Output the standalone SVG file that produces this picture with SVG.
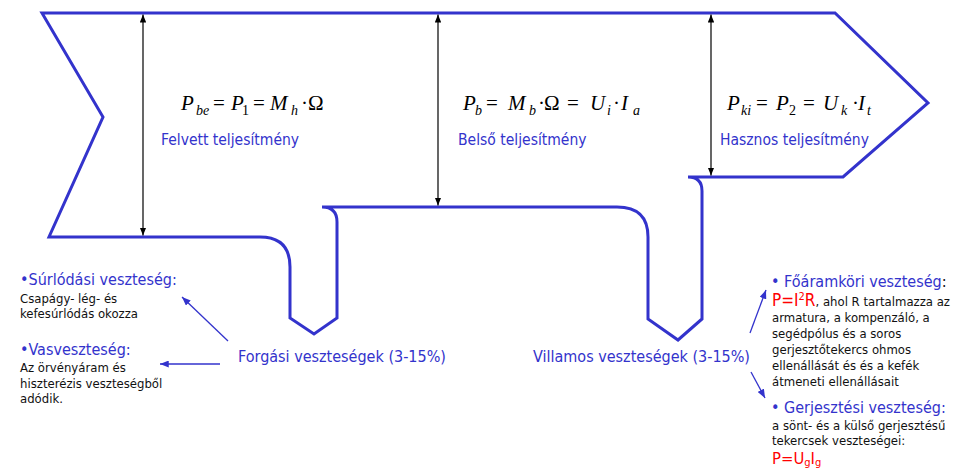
<svg xmlns="http://www.w3.org/2000/svg" width="953" height="468" viewBox="0 0 953 468">
<defs>
<style>
.flow{fill:#fff;stroke:#3333cc;stroke-width:3;stroke-linejoin:miter}
.m{font-family:"Liberation Serif","Times New Roman",serif;font-size:21px;fill:#000}
.i{font-style:italic}
.s{font-size:14px}
.lbl{font-family:"DejaVu Sans Condensed","DejaVu Sans",sans-serif;font-stretch:condensed;fill:#3333cc;font-size:15.5px}
.big{font-family:"DejaVu Sans Condensed","DejaVu Sans",sans-serif;font-stretch:condensed;fill:#3333cc;font-size:16px}
.txt{font-family:"DejaVu Sans Condensed","DejaVu Sans",sans-serif;font-stretch:condensed;fill:#111;font-size:13px}
.red{fill:#ff0000}
.rbig{font-size:17px}
.rmid{font-size:16.5px}
.rsm{font-size:11px}
.dim{stroke:#000;stroke-width:1.2;fill:none;marker-start:url(#ah);marker-end:url(#ah)}
.ptr{stroke:#3333cc;stroke-width:1.3;fill:none;marker-end:url(#bh)}
</style>
<marker id="ah" viewBox="0 0 10 8" refX="10" refY="4" markerWidth="8" markerHeight="6.4" markerUnits="userSpaceOnUse" orient="auto-start-reverse"><path d="M0,0 L10,4 L0,8 z" fill="#000"/></marker>
<marker id="bh" viewBox="0 0 10 8" refX="10" refY="4" markerWidth="9" markerHeight="7" markerUnits="userSpaceOnUse" orient="auto"><path d="M0,0 L10,4 L0,8 z" fill="#3333cc"/></marker>
</defs>

<g id="flow-shape">
<path class="flow" d="M322,207 Q337,207 337,222 L337,318 L314,334 L290,318 L290,267 Q290,237 260,237 L49,237 L103,117 L42,13 L835,13 L928,103 L843,177 L688,177 Q702,177 702,191 L702,319 L678,340 L648,319 L648,237 Q648,207 617,207 Z"/>
</g>

<g id="connectors">
<line class="dim" x1="143" y1="14.5" x2="143" y2="235.5"/>
<line class="dim" x1="438" y1="14.5" x2="438" y2="205.5"/>
<line class="dim" x1="711" y1="14.5" x2="711" y2="175.5"/>
<line class="ptr" x1="228" y1="341" x2="182" y2="297"/>
<line class="ptr" x1="220" y1="364" x2="160" y2="364"/>
<line class="ptr" x1="750" y1="333" x2="766" y2="290"/>
<line class="ptr" x1="751" y1="372" x2="765" y2="398"/>
</g>

<g id="node-felvett">
<text class="m"><tspan class="i" x="181" y="110">P</tspan><tspan class="i s" x="196" y="115">be</tspan><tspan x="213" y="110">=</tspan><tspan class="i" x="231" y="110">P</tspan><tspan class="s" x="242" y="115">1</tspan><tspan x="253" y="110">=</tspan><tspan class="i" x="270" y="110">M</tspan><tspan class="i s" x="291" y="115">h</tspan><tspan x="301" y="110">·</tspan><tspan x="308" y="110">Ω</tspan></text>
<text class="lbl" x="161" y="145">Felvett teljesítmény</text>
</g>

<g id="node-belso">
<text class="m"><tspan class="i" x="463" y="110">P</tspan><tspan class="i s" x="475" y="115">b</tspan><tspan x="486" y="110">=</tspan><tspan class="i" x="508" y="110">M</tspan><tspan class="i s" x="529" y="115">b</tspan><tspan x="538" y="110">·</tspan><tspan x="544" y="110">Ω</tspan><tspan x="567" y="110">=</tspan><tspan class="i" x="590" y="110">U</tspan><tspan class="i s" x="607" y="115">i</tspan><tspan x="613" y="110">·</tspan><tspan class="i" x="621" y="110">I</tspan><tspan class="i s" x="633" y="115">a</tspan></text>
<text class="lbl" x="458" y="145">Belső teljesítmény</text>
</g>

<g id="node-hasznos">
<text class="m"><tspan class="i" x="727" y="110">P</tspan><tspan class="i s" x="741" y="115">ki</tspan><tspan x="756" y="110">=</tspan><tspan class="i" x="776" y="110">P</tspan><tspan class="s" x="789" y="115">2</tspan><tspan x="803" y="110">=</tspan><tspan class="i" x="823" y="110">U</tspan><tspan class="i s" x="841" y="115">k</tspan><tspan x="852" y="110">·</tspan><tspan class="i" x="858" y="110">I</tspan><tspan class="i s" x="867" y="115">t</tspan></text>
<text class="lbl" x="720" y="145">Hasznos teljesítmény</text>
</g>

<g id="node-forgasi">
<text class="big" x="238" y="362">Forgási veszteségek (3-15%)</text>
</g>

<g id="node-villamos">
<text class="big" x="533" y="362">Villamos veszteségek (3-15%)</text>
</g>

<g id="node-surlodasi">
<text class="big" x="20" y="285">•Súrlódási veszteség:</text>
<text class="txt" x="20" y="303">Csapágy- lég- és</text>
<text class="txt" x="20" y="318">kefesúrlódás okozza</text>
</g>

<g id="node-vas">
<text class="big" x="20" y="355">•Vasveszteség:</text>
<text class="txt" x="20" y="372">Az örvényáram és</text>
<text class="txt" x="20" y="388">hiszterézis veszteségből</text>
<text class="txt" x="20" y="403">adódik.</text>
</g>

<g id="node-foaramkori">
<text class="big" x="771" y="287">• Főáramköri veszteség<tspan fill="#111">:</tspan></text>
<text class="txt" x="772" y="306"><tspan class="red rbig">P=I<tspan class="rsm" dy="-6">2</tspan><tspan class="rbig" dy="6">R</tspan></tspan>, ahol R tartalmazza az</text>
<text class="txt" x="772" y="322">armatura, a kompenzáló, a</text>
<text class="txt" x="772" y="338">segédpólus és a soros</text>
<text class="txt" x="772" y="354">gerjesztőtekercs ohmos</text>
<text class="txt" x="772" y="370">ellenállását és és a kefék</text>
<text class="txt" x="772" y="386">átmeneti ellenállásait</text>
</g>

<g id="node-gerjesztesi">
<text class="big" x="771" y="413">• Gerjesztési veszteség:</text>
<text class="txt" x="772" y="430">a sönt- és a külső gerjesztésű</text>
<text class="txt" x="772" y="445">tekercsek veszteségei:</text>
<text class="txt red rmid" x="772" y="464">P=U<tspan class="rsm" dy="2">g</tspan><tspan class="rmid" dy="-2">I</tspan><tspan class="rsm" dy="2">g</tspan></text>
</g>
</svg>
